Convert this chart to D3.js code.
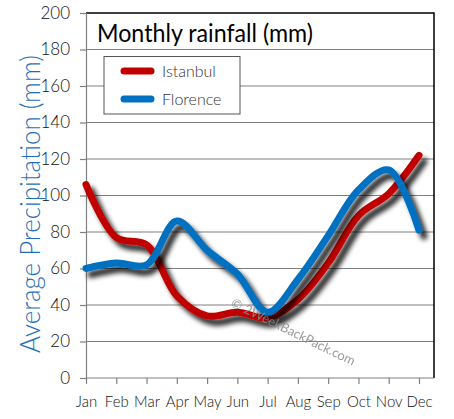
<!DOCTYPE html>
<html><head><meta charset="utf-8">
<script src="https://cdn.jsdelivr.net/npm/d3@7"></script>
<style>body{margin:0;background:#fff}svg{display:block}text{font-family:Lato,"Open Sans",sans-serif}</style>
</head><body><svg id="c" width="454" height="419"></svg>
<script>
const months = ["Jan","Feb","Mar","Apr","May","Jun","Jul","Aug","Sep","Oct","Nov","Dec"];
const istanbul = [106, 77, 73, 45, 34, 36, 33, 43, 63, 89, 101, 122];
const florence = [60, 63, 62, 86, 70, 57, 36, 54, 78, 103, 114, 81];
const yTicks = [0,20,40,60,80,100,120,140,160,180,200];
const seriesNames = ["Istanbul","Florence"];
const seriesColors = ["#c00000","#0070c0"];

const svg = d3.select("#c");
const L = 86, R = 434, T = 13, B = 378;
const x = d3.scalePoint().domain(months).range([L, 419]);
const y = d3.scaleLinear().domain([0,200]).range([B, T]);

const defs = svg.append("defs");
const f = defs.append("filter").attr("id","sh").attr("x","-20%").attr("y","-20%").attr("width","140%").attr("height","140%");
f.append("feGaussianBlur").attr("in","SourceAlpha").attr("stdDeviation",2.4).attr("result","b");
f.append("feOffset").attr("in","b").attr("dx",5).attr("dy",6).attr("result","o");
f.append("feComponentTransfer").attr("in","o").attr("result","o2").append("feFuncA").attr("type","linear").attr("slope",0.85);
const fm = f.append("feMerge"); fm.append("feMergeNode").attr("in","o2"); fm.append("feMergeNode").attr("in","SourceGraphic");

// gridlines
svg.append("g").selectAll("line").data(yTicks.filter(d=>d>0&&d<200)).join("line")
  .attr("x1",L).attr("x2",R).attr("y1",d=>y(d)).attr("y2",d=>y(d))
  .attr("stroke","#808080").attr("stroke-width",1.2);
// frame top/right
svg.append("path").attr("d",`M${L},${T}H${R}V${B}`).attr("fill","none").attr("stroke","#000").attr("stroke-width",1.5);

// y axis
const ya = svg.append("g").attr("transform",`translate(${L},0)`)
  .call(d3.axisLeft(y).tickValues(yTicks).tickSize(6).tickPadding(10));
ya.select(".domain").attr("stroke","#808080").attr("stroke-width",1.2);
ya.selectAll(".tick line").attr("stroke","#808080").attr("stroke-width",1.2);
ya.selectAll("text").attr("font-size",17).attr("fill","#111").attr("font-weight",300).attr("font-family","Lato, sans-serif");

// x axis
const xa = svg.append("g").attr("transform",`translate(0,${B})`)
  .call(d3.axisBottom(x).tickSize(6).tickPadding(12).tickSizeOuter(0));
xa.select(".domain").attr("d",`M${L},0H${R}`).attr("stroke","#808080").attr("stroke-width",1.2);
xa.selectAll(".tick line").attr("stroke","#808080").attr("stroke-width",1.2);
xa.selectAll("text").attr("font-size",15).attr("fill","#111").attr("font-weight",300);

// lines
const line = d3.line().x((d,i)=>x(months[i])).y(d=>y(d)).curve(d3.curveCatmullRom.alpha(0.5));
[istanbul, florence].forEach((s,k)=>{
  svg.append("path").attr("d",line(s)).attr("fill","none").attr("stroke",seriesColors[k])
    .attr("stroke-width",7).attr("stroke-linecap","round").attr("stroke-linejoin","round").attr("filter","url(#sh)");
});

// watermark
svg.append("text").attr("transform","translate(230,306) rotate(26)")
  .attr("font-size",13).attr("fill","#8a8a8a").attr("opacity",0.85).text("© 2WeekBackPack.com");

// title
svg.append("text").attr("x",97).attr("y",42).attr("font-size",25).attr("fill","#000")
  .attr("textLength",216).attr("lengthAdjust","spacingAndGlyphs").text("Monthly rainfall (mm)");

// legend
svg.append("rect").attr("x",104).attr("y",56.5).attr("width",136).attr("height",57.5)
  .attr("fill","#fff").attr("stroke","#555").attr("stroke-width",1);
seriesNames.forEach((n,k)=>{
  const cy = 71 + k*28;
  svg.append("line").attr("x1",124).attr("x2",151).attr("y1",cy).attr("y2",cy)
    .attr("stroke",seriesColors[k]).attr("stroke-width",7).attr("stroke-linecap","round");
  svg.append("text").attr("x",162).attr("y",cy+6).attr("font-size",16).attr("fill","#333").attr("font-weight",300).text(n);
});

// y axis title
svg.append("text").attr("transform","translate(40,204) rotate(-90)").attr("text-anchor","middle")
  .attr("font-size",27).attr("font-weight",300).attr("fill","#1f6fb7").attr("textLength",298).attr("lengthAdjust","spacingAndGlyphs")
  .text("Average Precipitation  (mm)");
</script></body></html>
